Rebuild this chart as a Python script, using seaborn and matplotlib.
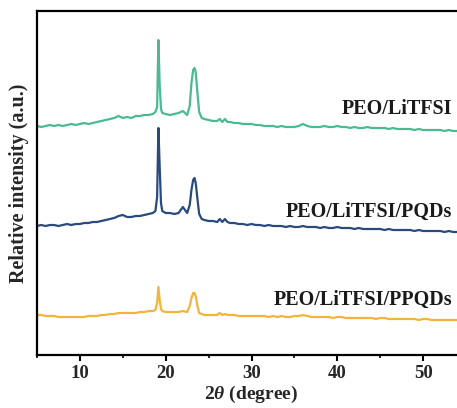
import matplotlib
matplotlib.use("Agg")
import matplotlib.pyplot as plt
from matplotlib.ticker import MultipleLocator
import numpy as np
import pandas as pd
import seaborn as sns

# 2-theta positions (degree), shared by all three patterns
two_theta = [
    5.0, 5.5, 6.0, 6.5, 7.0, 7.5, 8.0, 8.5, 9.0, 9.5,
    10.0, 10.5, 11.0, 11.5, 12.0, 12.5, 13.0, 13.5, 14.0, 14.5,
    15.0, 15.5, 16.0, 16.5, 17.0, 17.5, 18.0, 18.5,
    18.8, 19.0, 19.15, 19.3, 19.45, 19.6,
    20.0, 20.5, 21.0, 21.5, 22.0, 22.5,
    22.8, 23.0, 23.2, 23.35, 23.5, 23.7, 23.9,
    24.2, 24.5, 25.0, 25.5, 26.0, 26.3, 26.6, 26.9, 27.2, 27.5,
    28.0, 28.5, 29.0, 29.5, 30.0,
    30.5, 31.0, 31.5, 32.0, 32.5, 33.0, 33.5, 34.0, 34.5, 35.0,
    35.5, 36.0, 36.5, 37.0, 37.5, 38.0, 38.5, 39.0, 39.5, 40.0,
    40.5, 41.0, 41.5, 42.0, 42.5, 43.0, 43.5, 44.0, 44.5, 45.0,
    45.5, 46.0, 46.5, 47.0, 47.5, 48.0, 48.5, 49.0, 49.5, 50.0,
    50.5, 51.0, 51.5, 52.0, 52.5, 53.0, 53.5, 54.0, 54.5, 55.0,
]

# Stacked relative intensities (a.u.)
peo_litfsi = [
    229, 228, 229, 230, 229, 230, 229, 230, 231, 230,
    231, 232, 231, 232, 233, 234, 235, 236, 237, 239,
    237, 238, 237, 239, 239, 240, 240, 241,
    243, 248, 315, 270, 246, 242,
    241, 240, 241, 242, 244, 240,
    249, 272, 285, 287, 283, 262, 243,
    237, 236, 235, 234, 234, 236, 233, 236, 233, 233,
    232, 232, 231, 231, 231,
    230, 230, 229, 229, 229, 228, 229, 228, 228, 228,
    229, 231, 229, 228, 228, 228, 229, 228, 228, 229,
    228, 228, 227, 228, 227, 227, 228, 227, 227, 227,
    227, 226, 227, 226, 226, 226, 226, 225, 226, 225,
    225, 225, 225, 225, 224, 225, 224, 224, 224, 224,
]

peo_litfsi_pqds = [
    129, 130, 129, 130, 130, 129, 130, 131, 130, 131,
    131, 132, 132, 133, 133, 134, 135, 136, 137, 139,
    140, 138, 138, 139, 139, 140, 141, 142,
    144, 158, 227, 188, 152, 144,
    142, 142, 141, 142, 148, 142,
    150, 165, 175, 177, 172, 156, 141,
    136, 135, 134, 134, 133, 136, 133, 136, 133, 132,
    132, 131, 131, 130, 131,
    130, 130, 129, 130, 129, 129, 129, 128, 129, 128,
    128, 129, 128, 128, 128, 127, 128, 127, 127, 128,
    127, 127, 127, 126, 127, 126, 126, 126, 126, 126,
    125, 126, 125, 125, 125, 125, 125, 124, 125, 124,
    124, 124, 124, 124, 123, 124, 123, 123, 123, 123,
]

peo_litfsi_ppqds = [
    40, 40, 39, 39, 39, 38, 38, 38, 38, 38,
    38, 38, 39, 39, 39, 40, 40, 41, 41, 42,
    42, 42, 42, 42, 43, 43, 44, 44,
    45, 52, 68, 55, 46, 44,
    43, 43, 43, 43, 44, 43,
    49, 57, 62, 62, 59, 49, 42,
    41, 40, 40, 40, 40, 42, 40, 41, 40, 40,
    40, 39, 39, 39, 39,
    39, 39, 39, 38, 39, 38, 39, 38, 38, 39,
    39, 40, 39, 38, 38, 38, 38, 38, 37, 38,
    38, 37, 37, 37, 37, 37, 37, 37, 36, 37,
    37, 36, 36, 36, 36, 36, 36, 36, 35, 36,
    36, 35, 35, 35, 35, 35, 35, 35, 35, 35,
]

sample_names = ["PEO/LiTFSI", "PEO/LiTFSI/PQDs", "PEO/LiTFSI/PPQDs"]
label_positions = [(53.4, 246), (53.4, 143), (53.4, 55)]

colors = {
    "PEO/LiTFSI": "#4BBA92",
    "PEO/LiTFSI/PQDs": "#2A4A7D",
    "PEO/LiTFSI/PPQDs": "#F4B43A",
}

frames = []
for name, values in zip(sample_names,
                        [peo_litfsi, peo_litfsi_pqds, peo_litfsi_ppqds]):
    frames.append(pd.DataFrame({"two_theta": two_theta,
                                "intensity": values,
                                "sample": name}))
data = pd.concat(frames, ignore_index=True)

sns.set_style("ticks")
plt.rcParams["font.family"] = ["Liberation Serif", "DejaVu Serif"]
plt.rcParams["font.weight"] = "bold"
plt.rcParams["mathtext.fontset"] = "custom"
plt.rcParams["mathtext.it"] = "Liberation Serif:italic:bold"
plt.rcParams["mathtext.rm"] = "Liberation Serif:bold"

fig = plt.figure(figsize=(4.57, 4.08), dpi=100)
ax = fig.add_axes([37 / 457, 53 / 408, 429 / 457, 344 / 408])

sns.lineplot(data=data, x="two_theta", y="intensity", hue="sample",
             palette=colors, estimator=None, sort=False, legend=False,
             linewidth=1.6, ax=ax)

for name, (tx, ty) in zip(sample_names, label_positions):
    ax.text(tx, ty, name, ha="right", va="center", fontsize=14.5,
            fontweight="bold", color="#1a1a1a")

ax.set_xlim(5, 55)
ax.set_ylim(0, 344)
ax.set_yticks([])
ax.xaxis.set_major_locator(MultipleLocator(10))
ax.xaxis.set_minor_locator(MultipleLocator(5))
ax.tick_params(axis="x", which="major", direction="out", length=4,
               width=1.5, labelsize=13.5, pad=3, color="black")
ax.tick_params(axis="x", which="minor", direction="out", length=2.5,
               width=1.2, color="black")
for lbl in ax.get_xticklabels():
    lbl.set_fontweight("bold")

for side in ["left", "bottom", "top", "right"]:
    ax.spines[side].set_linewidth(1.6)
    ax.spines[side].set_color("black")

ax.set_xlabel(r"2$\theta$ (degree)", fontsize=14, fontweight="bold",
              labelpad=1.5)
ax.set_ylabel("Relative intensity (a.u.)", fontsize=14.5, fontweight="bold",
              labelpad=6)

fig.savefig("out.png", dpi=100)
